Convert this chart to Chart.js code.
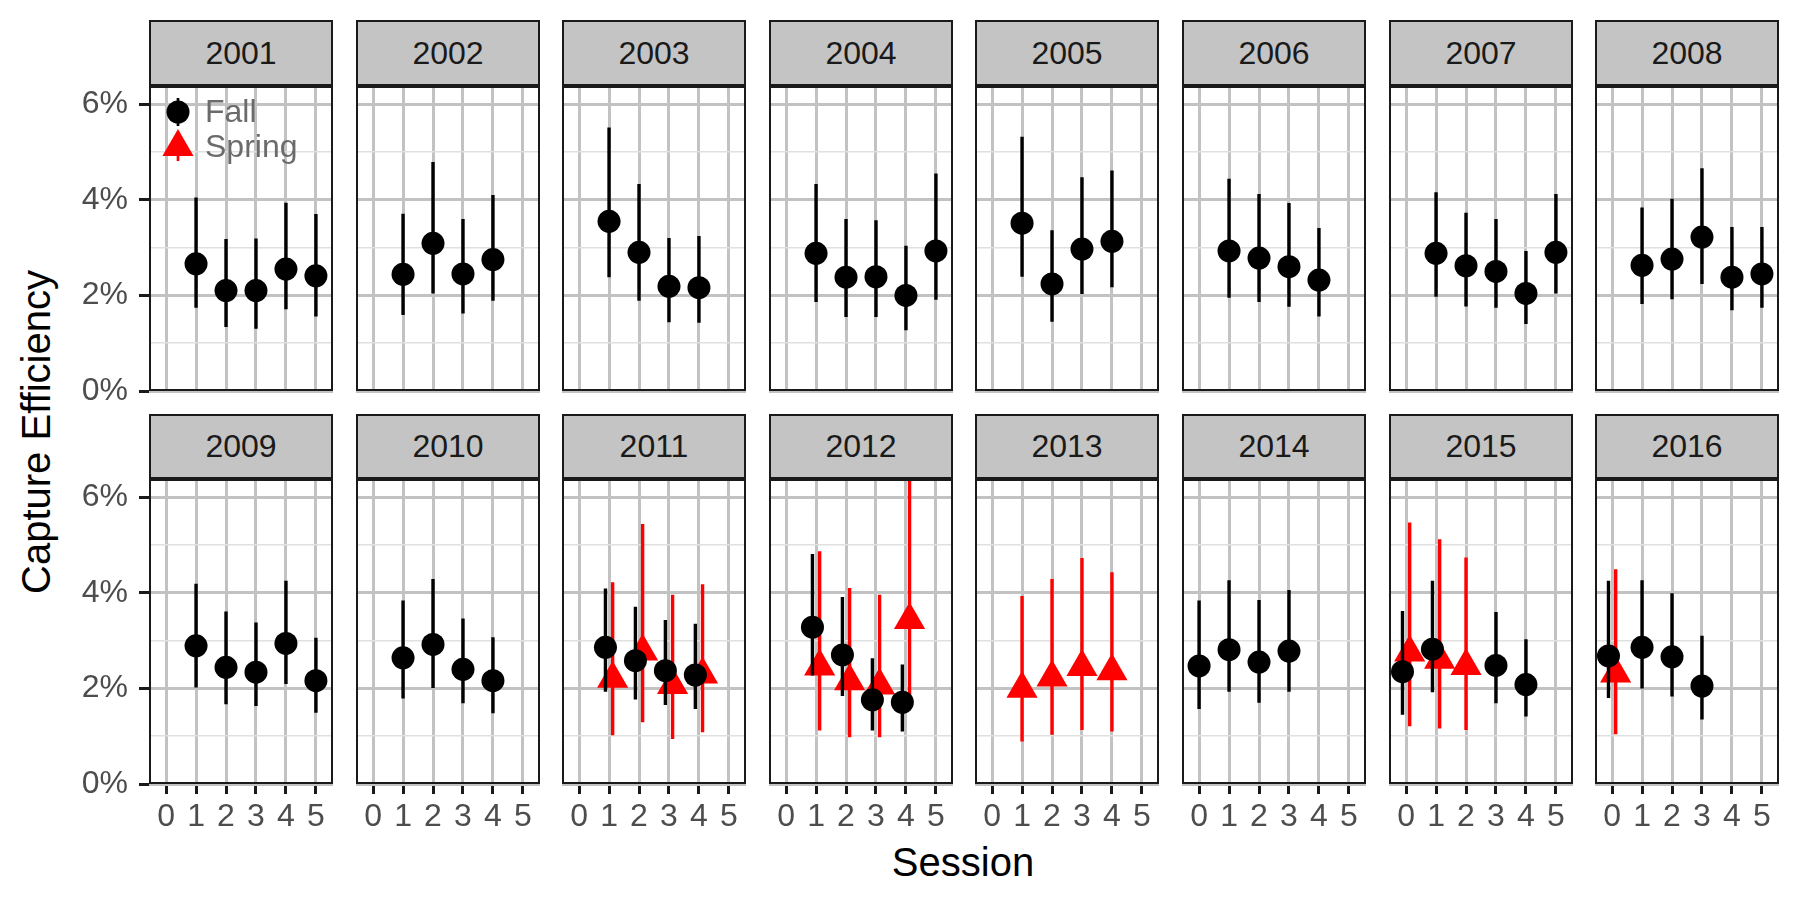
<!DOCTYPE html>
<html>
<head>
<meta charset="utf-8">
<title>Capture Efficiency by Session</title>
<script src="https://cdn.jsdelivr.net/npm/chart.js"></script>
<style>
  body { margin: 0; background: #fff; font-family: "Liberation Sans", Arial, Helvetica, sans-serif; }
  #wrap { position: relative; width: 1799px; height: 899px; overflow: hidden; background: #fff; }
  .strip { position: absolute; box-sizing: border-box; background: #c4c4c4; border: 2px solid #1a1a1a;
           color: #1a1a1a; font-size: 32px; text-align: center; }
  canvas { position: absolute; }
  .title { position: absolute; color: #000; font-size: 40px; white-space: nowrap; }
</style>
</head>
<body>
<div id="wrap">
  <div class="title" style="left:36px; top:432px; transform:translate(-50%,-50%) rotate(-90deg);">Capture Efficiency</div>
  <div class="title" style="left:963px; top:862px; transform:translate(-50%,-50%);">Session</div>
</div>
<script>

const years = [2001, 2002, 2003, 2004, 2005, 2006, 2007, 2008,
               2009, 2010, 2011, 2012, 2013, 2014, 2015, 2016];

// Fall estimates (percent) with lower / upper bounds
const fallYear = [2001,2001,2001,2001,2001, 2002,2002,2002,2002, 2003,2003,2003,2003,
                  2004,2004,2004,2004,2004, 2005,2005,2005,2005, 2006,2006,2006,2006,
                  2007,2007,2007,2007,2007, 2008,2008,2008,2008,2008, 2009,2009,2009,2009,2009,
                  2010,2010,2010,2010, 2011,2011,2011,2011, 2012,2012,2012,2012,
                  2014,2014,2014,2014, 2015,2015,2015,2015, 2016,2016,2016,2016];
const fallSession = [1,2,3,4,5, 1,2,3,4, 1,2,3,4, 1,2,3,4,5, 1,2,3,4, 1,2,3,4,
                     1,2,3,4,5, 1,2,3,4,5, 1,2,3,4,5, 1,2,3,4, 1,2,3,4, 1,2,3,4,
                     0,1,2,3, 0,1,3,4, 0,1,2,3];
const fallEst = [2.66,2.10,2.10,2.55,2.41, 2.44,3.09,2.45,2.75, 3.55,2.90,2.19,2.16,
                 2.88,2.38,2.39,2.00,2.93, 3.51,2.24,2.97,3.13, 2.93,2.78,2.60,2.32,
                 2.88,2.62,2.50,2.04,2.90, 2.63,2.76,3.22,2.38,2.45, 2.89,2.44,2.34,2.94,2.16,
                 2.64,2.92,2.40,2.16, 2.86,2.58,2.37,2.28, 3.28,2.70,1.76,1.71,
                 2.47,2.81,2.55,2.78, 2.35,2.82,2.48,2.08, 2.68,2.86,2.66,2.05];
const fallLow = [1.74,1.34,1.30,1.71,1.56, 1.59,2.04,1.62,1.89, 2.38,1.89,1.44,1.43,
                 1.86,1.55,1.55,1.27,1.91, 2.39,1.45,2.03,2.17, 1.95,1.86,1.76,1.56,
                 1.97,1.77,1.74,1.40,2.04, 1.82,1.92,2.24,1.69,1.74, 2.02,1.67,1.63,2.09,1.49,
                 1.79,2.01,1.69,1.48, 1.93,1.77,1.65,1.57, 2.27,1.84,1.12,1.10,
                 1.57,1.93,1.70,1.93, 1.45,1.92,1.69,1.41, 1.80,2.00,1.83,1.35];
const fallHigh = [4.05,3.18,3.19,3.94,3.70, 3.71,4.79,3.60,4.10, 5.51,4.33,3.20,3.24,
                  4.33,3.60,3.57,3.04,4.55, 5.32,3.36,4.47,4.61, 4.44,4.12,3.93,3.41,
                  4.16,3.73,3.60,2.93,4.12, 3.84,4.02,4.66,3.43,3.43, 4.19,3.61,3.38,4.25,3.06,
                  3.84,4.29,3.46,3.07, 4.09,3.71,3.43,3.35, 4.81,3.91,2.63,2.50,
                  3.84,4.26,3.85,4.06, 3.62,4.25,3.60,3.03, 4.25,4.26,3.99,3.10];

// Spring estimates (percent)
const springYear = [2011,2011,2011,2011, 2012,2012,2012,2012, 2013,2013,2013,2013, 2015,2015,2015, 2016];
const springSession = [1,2,3,4, 1,2,3,4, 1,2,3,4, 0,1,2, 0];
const springEst = [2.20,2.77,2.07,2.29, 2.46,2.15,2.06,3.43, 1.99,2.23,2.45,2.36, 2.75,2.60,2.47, 2.31];
const springLow = [1.02,1.29,0.94,1.08, 1.12,0.98,0.98,1.86, 0.89,1.03,1.13,1.10, 1.21,1.16,1.13, 1.04];
const springHigh = [4.22,5.44,3.96,4.18, 4.87,4.10,3.96,6.80, 3.93,4.29,4.73,4.43, 5.47,5.12,4.74, 4.49];

const sessionTicks = [0, 1, 2, 3, 4, 5];
const percentTicks = [0, 1, 2, 3, 4, 5, 6];

const legendLabels = ["Fall", "Spring"];
const legendColors = ["#000000", "#ff0000"];
const legendShapes = ["circle", "triangle"];

Chart.defaults.font.family = '"Liberation Sans", Arial, Helvetica, sans-serif';

const wrap = document.getElementById("wrap");

const panelLeft = 149;
const panelStep = 206.6;
const panelWidth = 184;
const panelHeight = 305;
const rowTop = [86, 479];
const stripTop = [20, 414];
const yAxisWidth = 149;
const xAxisHeight = [20, 60];
const dodge = 0.12;

function hasPair(yearList, sessionList, year, session){
    for (let i = 0; i < yearList.length; i++) {
        if (yearList[i] === year && sessionList[i] === session) return true;
    }
    return false;
}

function buildSeries(year, yearList, sessionList, est, low, high, otherYear, otherSession, shift){

    const points = [];
    const bars = [];

    for (let i = 0; i < yearList.length; i++) {
        if (yearList[i] !== year) continue;
        let x = sessionList[i];
        if (hasPair(otherYear, otherSession, year, x)) x += shift;
        points.push({ x: x, y: est[i] });
        bars.push({ x: x, y: low[i] }, { x: x, y: high[i] }, { x: x, y: null });
    }

    return { points, bars };
}

function isMinor(ctx){
    return ctx.tick && ctx.tick.value % 2 !== 0;
}

const panelBorder = {
    id: "panelBorder",
    afterDraw(chart){
        const a = chart.chartArea;
        const ctx = chart.ctx;
        ctx.save();
        ctx.strokeStyle = "#1a1a1a";
        ctx.lineWidth = 2;
        ctx.strokeRect(a.left + 1, a.top + 1, a.right - a.left - 2, a.bottom - a.top - 2);
        ctx.restore();
    }
};

const insideLegend = {
    id: "insideLegend",
    afterDraw(chart){
        const a = chart.chartArea;
        const ctx = chart.ctx;
        ctx.save();
        legendLabels.forEach((label, i) => {
            const cx = a.left + 29;
            const cy = a.top + 26 + i * 35;
            ctx.strokeStyle = legendColors[i];
            ctx.lineWidth = 2.7;
            ctx.beginPath();
            ctx.moveTo(cx, cy - 14);
            ctx.lineTo(cx, cy + 14);
            ctx.stroke();
            ctx.fillStyle = legendColors[i];
            Chart.helpers.drawPoint(ctx, {
                pointStyle: legendShapes[i],
                radius: i === 0 ? 11.5 : 18,
                borderWidth: 0
            }, cx, cy);
            ctx.fillStyle = "#6b6b6b";
            ctx.font = '32px "Liberation Sans", Arial, Helvetica, sans-serif';
            ctx.textBaseline = "middle";
            ctx.textAlign = "left";
            ctx.fillText(label, a.left + 56, cy + 1);
        });
        ctx.restore();
    }
};

years.forEach((year, k) => {

    const row = Math.floor(k / 8);
    const col = k % 8;
    const left = Math.round(panelLeft + panelStep * col);

    const strip = document.createElement("div");
    strip.className = "strip";
    strip.style.left = left + "px";
    strip.style.top = stripTop[row] + "px";
    strip.style.width = panelWidth + "px";
    strip.style.height = (rowTop[row] - stripTop[row]) + "px";
    strip.style.lineHeight = (rowTop[row] - stripTop[row] - 4) + "px";
    strip.textContent = year;
    wrap.appendChild(strip);

    const yw = col === 0 ? yAxisWidth : 0;
    const xh = xAxisHeight[row];

    const canvas = document.createElement("canvas");
    canvas.width = panelWidth + yw;
    canvas.height = panelHeight + xh;
    canvas.style.left = (left - yw) + "px";
    canvas.style.top = rowTop[row] + "px";
    wrap.appendChild(canvas);

    const fall = buildSeries(year, fallYear, fallSession, fallEst, fallLow, fallHigh,
                             springYear, springSession, -dodge);
    const spring = buildSeries(year, springYear, springSession, springEst, springLow, springHigh,
                               fallYear, fallSession, dodge);

    new Chart(canvas, {
        type: "scatter",
        data: {
            datasets: [
                {
                    label: "Fall",
                    data: fall.points,
                    pointStyle: "circle",
                    pointRadius: 11.5,
                    backgroundColor: "#000000",
                    borderWidth: 0
                },
                {
                    label: "Fall range",
                    data: fall.bars,
                    showLine: true,
                    pointRadius: 0,
                    borderColor: "#000000",
                    borderWidth: 3.4,
                    clip: 0
                },
                {
                    label: "Spring",
                    data: spring.points,
                    pointStyle: "triangle",
                    pointRadius: 18,
                    backgroundColor: "#ff0000",
                    borderWidth: 0
                },
                {
                    label: "Spring range",
                    data: spring.bars,
                    showLine: true,
                    pointRadius: 0,
                    borderColor: "#ff0000",
                    borderWidth: 3.4,
                    clip: 0
                }
            ]
        },
        options: {
            responsive: false,
            animation: false,
            devicePixelRatio: 1,
            events: [],
            layout: { padding: 0, autoPadding: false },
            plugins: { legend: { display: false }, tooltip: { enabled: false } },
            scales: {
                x: {
                    type: "linear",
                    min: -0.57,
                    max: 5.57,
                    afterFit(scale){
                        scale.height = xh;
                        scale.paddingLeft = 0;
                        scale.paddingRight = 0;
                    },
                    afterBuildTicks(scale){ scale.ticks = sessionTicks.map(v => ({ value: v })); },
                    border: { display: false },
                    grid: {
                        color: "#c2c2c2",
                        lineWidth: 3,
                        drawTicks: row === 1,
                        tickLength: 10,
                        tickWidth: 3,
                        tickColor: "#1a1a1a"
                    },
                    ticks: {
                        display: row === 1,
                        color: "#4d4d4d",
                        font: { size: 32 },
                        padding: 4,
                        maxRotation: 0,
                        autoSkip: false
                    }
                },
                y: {
                    type: "linear",
                    min: 0,
                    max: 6.38,
                    afterFit(scale){
                        scale.width = yw;
                        scale.paddingTop = 0;
                        scale.paddingBottom = 0;
                    },
                    afterBuildTicks(scale){ scale.ticks = percentTicks.map(v => ({ value: v })); },
                    border: { display: false },
                    grid: {
                        color: ctx => isMinor(ctx) ? "#e0e0e0" : "#c2c2c2",
                        lineWidth: ctx => isMinor(ctx) ? 1.5 : 3,
                        drawTicks: col === 0,
                        tickLength: 10,
                        tickWidth: 3,
                        tickColor: ctx => isMinor(ctx) ? "rgba(0,0,0,0)" : "#1a1a1a"
                    },
                    ticks: {
                        display: col === 0,
                        color: "#4d4d4d",
                        font: { size: 32 },
                        padding: 11,
                        autoSkip: false,
                        callback: v => v % 2 === 0 ? v + "%" : ""
                    }
                }
            }
        },
        plugins: k === 0 ? [panelBorder, insideLegend] : [panelBorder]
    });

});

</script>
</body>
</html>
